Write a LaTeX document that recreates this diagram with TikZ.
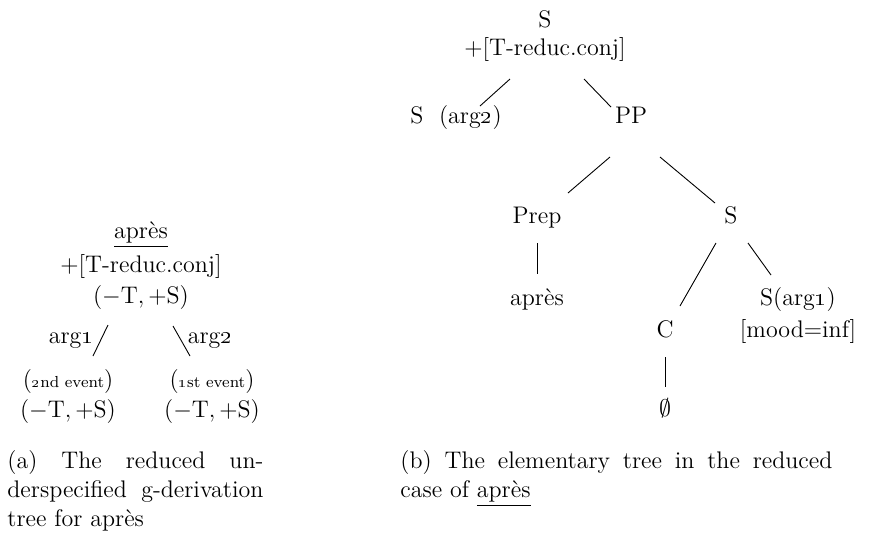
\documentclass[12pt,tikz,border=0pt]{standalone}
\usepackage{amsmath,amssymb}
\usepackage{tikz}
\usetikzlibrary{positioning}

\begin{document}
\begin{tikzpicture}[
  on grid,
  txt/.style={inner sep=0pt, text height=8.5pt, text depth=3pt},
  captext/.style={inner sep=0pt, align=justify, anchor=north west},
  branch/.style={line width=0.45pt}
]
\useasboundingbox (0,0) rectangle (437pt,-271.5pt);

% (a) reduced g-derivation tree
\node[txt] (a-head) at (70.5pt,-116.5pt) {\underline{après}};
\node[txt, below=17pt of a-head] (a-feat) {$+$[T-reduc.conj]};
\node[txt, below=15.5pt of a-feat] (a-sign) {$(-\mathrm{T},+\mathrm{S})$};
\node[txt, below left=20pt and 35pt of a-sign] (a-arg1) {arg\oldstylenums{1}};
\node[txt, below right=20pt and 34.5pt of a-sign] (a-arg2) {arg\oldstylenums{2}};
\node[txt, below left=42pt and 36.5pt of a-sign] (a-ev2) {(\scriptsize\oldstylenums{2}nd event\normalsize)};
\node[txt, below=15pt of a-ev2] (a-s2) {$(-\mathrm{T},+\mathrm{S})$};
\node[txt, below right=42pt and 35.5pt of a-sign] (a-ev1) {(\scriptsize\oldstylenums{1}st event\normalsize)};
\node[txt, below=15pt of a-ev1] (a-s1) {$(-\mathrm{T},+\mathrm{S})$};
\draw[branch] ([shift={(-16.5pt,-13.5pt)}]a-sign.center) -- ([shift={(12.5pt,13pt)}]a-ev2.center);
\draw[branch] ([shift={(16pt,-14pt)}]a-sign.center) -- ([shift={(-11pt,13pt)}]a-ev1.center);

% (b) elementary tree
\node[txt] (b-root) at (272.5pt,-11pt) {S};
\node[txt, below=14pt of b-root] (b-feat) {$+$[T-reduc.conj]};
\node[txt, below left=34pt and 44.5pt of b-feat] (b-arg2) {S~~(arg\oldstylenums{2})};
\node[txt, below right=34pt and 43pt of b-feat] (b-pp) {PP};
\node[txt, below left=50pt and 47pt of b-pp] (b-prep) {Prep};
\node[txt, below right=50pt and 50pt of b-pp] (b-s) {S};
\node[txt, below=41pt of b-prep] (b-lex) {après};
\node[txt, below left=57pt and 33pt of b-s] (b-c) {C};
\node[txt, below right=41pt and 33.5pt of b-s] (b-arg1) {S(arg\oldstylenums{1})};
\node[txt, below=16pt of b-arg1] (b-mood) {[mood=inf]};
\node[txt, below=39.5pt of b-c] (b-empty) {$\emptyset$};
\draw[branch] ([shift={(-17.5pt,-14.5pt)}]b-feat.center) -- ([shift={(12pt,6pt)}]b-arg2.center);
\draw[branch] ([shift={(19.5pt,-14.5pt)}]b-feat.center) -- ([shift={(-10pt,5.5pt)}]b-pp.center);
\draw[branch] ([shift={(-10.5pt,-19.5pt)}]b-pp.center) -- ([shift={(15.5pt,12.5pt)}]b-prep.center);
\draw[branch] ([shift={(14.5pt,-19.5pt)}]b-pp.center) -- ([shift={(-8pt,7.5pt)}]b-s.center);
\draw[branch] ([yshift=-12.5pt]b-prep.center) -- ([yshift=13pt]b-lex.center);
\draw[branch] ([shift={(-7.5pt,-12.5pt)}]b-s.center) -- ([shift={(7.5pt,13pt)}]b-c.center);
\draw[branch] ([shift={(8.5pt,-12.5pt)}]b-s.center) -- ([shift={(-13.5pt,12.5pt)}]b-arg1.center);
\draw[branch] ([yshift=-12.5pt]b-c.center) -- ([yshift=12pt]b-empty.center);

% captions
\node[captext, text width=128pt] (a-cap) at (3.5pt,-225pt)
  {(a) The reduced un-\linebreak derspecified g-derivation\linebreak tree for après};
\node[captext, text width=216pt] (b-cap) at (200pt,-225pt)
  {(b) The elementary tree in the reduced\linebreak case of \underline{après}};
\end{tikzpicture}
\end{document}
